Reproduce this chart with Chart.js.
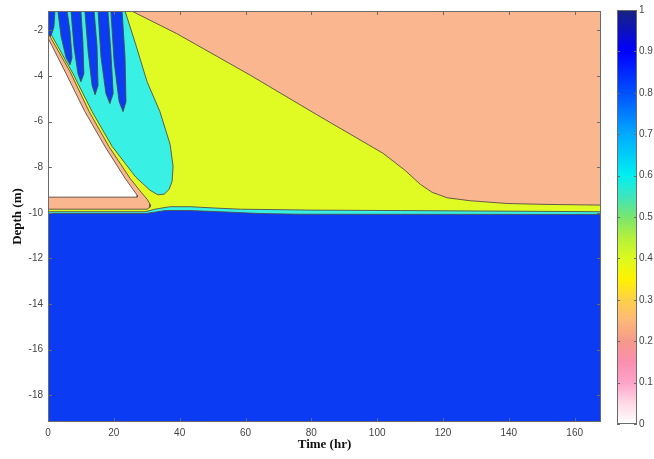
<!DOCTYPE html>
<html>
<head>
<meta charset="utf-8">
<script src="https://cdn.jsdelivr.net/npm/chart.js@4.4.1/dist/chart.umd.min.js"></script>
<style>
  html, body { margin: 0; padding: 0; background: #fff; }
  #wrap { position: relative; width: 654px; height: 459px; }
  #depth-chart { position: absolute; left: 0; top: 0; }
  #colorbar { position: absolute; left: 600px; top: 0; }
</style>
</head>
<body>
<div id="wrap">
  <canvas id="depth-chart" width="604" height="459"></canvas>
  <canvas id="colorbar" width="54" height="459"></canvas>
</div>
<script>
// axis ranges and tick labels
const timeRange = [0, 168];
const depthRange = [-19.17, -1.15];
const timeTicks = [0, 20, 40, 60, 80, 100, 120, 140, 160];
const depthTicks = [-18, -16, -14, -12, -10, -8, -6, -4, -2];
const colorbarTicks = [0, 0.1, 0.2, 0.3, 0.4, 0.5, 0.6, 0.7, 0.8, 0.9, 1];

// colormap levels (value -> colour)
const colorLevels = [0, 0.05, 0.1, 0.15, 0.2, 0.25, 0.3, 0.35, 0.4, 0.45, 0.5, 0.55, 0.6, 0.7, 0.8, 0.9, 1];
const colorStops = ['#ffffff', '#ffd9e6', '#ffa3c8', '#fa8fb0', '#f5998a', '#fcb878', '#ffd048', '#fff200',
  '#dcfa1e', '#b4f03c', '#78e66e', '#3ce6be', '#00f0f0', '#00aaff', '#0050ff', '#0000ff', '#19237e'];

// filled contour regions, [time (hr), depth (m)] along each boundary
const fullDomain = [[0, -1.15], [168, -1.15], [168, -19.17], [0, -19.17]];
const yellowZone = [[0, -1.15], [25.4, -1.15], [39.1, -2.14], [61.4, -3.96], [81.7, -5.70], [101.8, -7.39],
  [108.5, -8.14], [113.1, -8.75], [116.7, -9.10], [121.3, -9.34], [128.3, -9.47], [139.4, -9.59],
  [151.6, -9.63], [168, -9.66], [168, -10.0], [0, -10.0]];
const cyanPlume = [[0, -1.15], [23.4, -1.15], [26.4, -2.50], [30.1, -4.25], [34.0, -5.56], [37.1, -7.00],
  [38.0, -7.96], [37.7, -8.62], [36.8, -8.97], [35.3, -9.18], [33.4, -9.21], [31.0, -9.01],
  [26.7, -8.44], [19.5, -7.09], [13.4, -5.56], [7.6, -3.90], [0, -1.93]];
const finger1 = [[0, -1.15], [2.1, -1.15], [1.8, -1.85], [0.9, -2.24], [0, -2.33]];
const finger2 = [[3.0, -1.15], [4.0, -2.28], [5.5, -3.20], [6.7, -3.51], [7.3, -3.20], [6.7, -2.07], [5.8, -1.15]];
const finger3 = [[7.0, -1.15], [7.9, -2.72], [9.1, -3.90], [10.0, -4.25], [10.9, -3.90], [10.6, -2.50], [10.0, -1.15]];
const finger4 = [[11.2, -1.15], [12.2, -2.94], [13.4, -4.42], [14.3, -4.82], [15.2, -4.42], [14.9, -2.72], [14.0, -1.15]];
const finger5 = [[15.2, -1.15], [16.1, -3.16], [17.6, -4.77], [18.8, -5.21], [19.8, -4.77], [19.1, -2.94], [18.2, -1.15]];
const finger6 = [[19.1, -1.15], [20.1, -3.38], [21.6, -5.12], [22.8, -5.56], [23.7, -5.12], [23.4, -3.16], [22.5, -1.15]];
const salmonBand = [[0, -2.11], [6.7, -3.81], [12.5, -5.56], [18.5, -7.09], [24.9, -8.48], [28.3, -9.10],
  [30.1, -9.40], [31.0, -9.62], [31.0, -9.75], [30.1, -9.84], [0, -9.84]];
const whiteZone = [[0, -2.33], [5.5, -3.90], [11.2, -5.56], [17.3, -7.09], [23.4, -8.48], [25.8, -8.97],
  [27.1, -9.23], [27.1, -9.31], [0, -9.31]];
const cyanSeam = [[0, -9.95], [29.5, -9.95], [32.5, -9.84], [37.1, -9.73], [43.2, -9.73], [50.8, -9.79],
  [58.4, -9.84], [79.6, -9.88], [107.0, -9.90], [168, -9.95], [168, -10.2], [0, -10.2]];
const blueZone = [[0, -10.03], [29.5, -10.03], [32.5, -9.97], [35.6, -9.90], [43.2, -9.90], [55.3, -9.97],
  [64.4, -10.03], [76.6, -10.06], [168, -10.07], [168, -19.17], [0, -19.17]];

const SALMON = '#f9b68f';
const YELLOW = '#e0fb24';
const CYAN = '#38f0e4';
const BLUE = '#0b3cf4';
const EDGE = 'rgba(80,70,65,0.85)';

const tickFont = { family: "'Liberation Sans', Arial, sans-serif", size: 10 };
const titleFont = { family: "'Liberation Serif', 'Times New Roman', serif", size: 13, weight: 'bold' };

// box round the plot with inward tick marks, matlab style
const frameTicks = {
  id: 'frameTicks',
  afterDatasetsDraw(chart, args, opts) {
    const { ctx, chartArea: a, scales } = chart;
    const len = opts.len || 4;
    ctx.save();
    ctx.strokeStyle = opts.color || '#666';
    ctx.lineWidth = 1;
    ctx.beginPath();
    for (const s of Object.values(scales)) {
      if (s.options.display === false) continue;
      for (const t of s.ticks) {
        const p = Math.round(s.getPixelForValue(t.value)) + 0.5;
        if (s.isHorizontal()) {
          ctx.moveTo(p, a.bottom); ctx.lineTo(p, a.bottom - len);
          ctx.moveTo(p, a.top); ctx.lineTo(p, a.top + len);
        } else {
          ctx.moveTo(a.left, p); ctx.lineTo(a.left + len, p);
          ctx.moveTo(a.right, p); ctx.lineTo(a.right - len, p);
        }
      }
    }
    ctx.stroke();
    ctx.strokeRect(Math.round(a.left) + 0.5, Math.round(a.top) + 0.5, Math.round(a.width) - 1, Math.round(a.height) - 1);
    ctx.restore();
  }
};

function region(points, color, edge) {
  return {
    data: points.map(([x, y]) => ({ x, y })),
    backgroundColor: color,
    borderColor: edge ? EDGE : 'transparent',
    borderWidth: edge ? 1 : 0,
    fill: 'shape',
    pointRadius: 0,
    tension: 0
  };
}

// bottom layer first
const layers = [
  region(fullDomain, SALMON, false),
  region(yellowZone, YELLOW, true),
  region(cyanPlume, CYAN, true),
  region(finger1, BLUE, true),
  region(finger2, BLUE, true),
  region(finger3, BLUE, true),
  region(finger4, BLUE, true),
  region(finger5, BLUE, true),
  region(finger6, BLUE, true),
  region(salmonBand, SALMON, true),
  region(whiteZone, '#ffffff', true),
  region(cyanSeam, CYAN, true),
  region(blueZone, BLUE, true)
];
layers.forEach((d, i) => { d.order = layers.length - i; });

new Chart(document.getElementById('depth-chart'), {
  type: 'line',
  data: { datasets: layers },
  options: {
    responsive: false,
    animation: false,
    events: [],
    layout: { padding: { top: 9, right: 3, left: 0, bottom: 0 } },
    plugins: {
      legend: { display: false },
      tooltip: { enabled: false },
      frameTicks: { color: '#6b6b6b', len: 4 }
    },
    scales: {
      x: {
        type: 'linear',
        min: timeRange[0],
        max: timeRange[1],
        afterBuildTicks: s => { s.ticks = timeTicks.map(v => ({ value: v })); },
        afterFit: s => { s.height = 37; },
        grid: { display: false, drawTicks: false },
        border: { display: false },
        ticks: { padding: 5, color: '#444', font: tickFont, maxRotation: 0 },
        title: { display: true, text: 'Time (hr)', color: '#111', font: titleFont, padding: { top: 7, bottom: 7 } }
      },
      y: {
        type: 'linear',
        min: depthRange[0],
        max: depthRange[1],
        afterBuildTicks: s => { s.ticks = depthTicks.map(v => ({ value: v })); },
        afterFit: s => { s.width = 48; },
        grid: { display: false, drawTicks: false },
        border: { display: false },
        ticks: { padding: 5, color: '#444', font: tickFont },
        title: { display: true, text: 'Depth (m)', color: '#111', font: titleFont, padding: { top: 10, bottom: 10 } }
      }
    }
  },
  plugins: [frameTicks]
});

// colour bar
new Chart(document.getElementById('colorbar'), {
  type: 'bar',
  data: {
    labels: [''],
    datasets: [{
      data: [[colorbarTicks[0], colorbarTicks[colorbarTicks.length - 1]]],
      backgroundColor: c => {
        const chart = c.chart;
        if (!chart.chartArea) return '#fff';
        const y = chart.scales.y;
        const g = chart.ctx.createLinearGradient(0, y.getPixelForValue(0), 0, y.getPixelForValue(1));
        colorLevels.forEach((v, i) => g.addColorStop(v, colorStops[i]));
        return g;
      },
      borderWidth: 0,
      barPercentage: 1,
      categoryPercentage: 1
    }]
  },
  options: {
    responsive: false,
    animation: false,
    events: [],
    layout: { padding: { top: 10, right: 0, left: 17, bottom: 35 } },
    plugins: {
      legend: { display: false },
      tooltip: { enabled: false },
      frameTicks: { color: '#6b6b6b', len: 3 }
    },
    scales: {
      x: { display: false },
      y: {
        position: 'right',
        min: 0,
        max: 1,
        afterBuildTicks: s => { s.ticks = colorbarTicks.map(v => ({ value: v })); },
        afterFit: s => { s.width = 17; },
        grid: { display: false, drawTicks: false },
        border: { display: false },
        ticks: {
          padding: 2, color: '#444', font: tickFont,
          callback: v => String(Math.round(v * 10) / 10)
        }
      }
    }
  },
  plugins: [frameTicks]
});
</script>
</body>
</html>
